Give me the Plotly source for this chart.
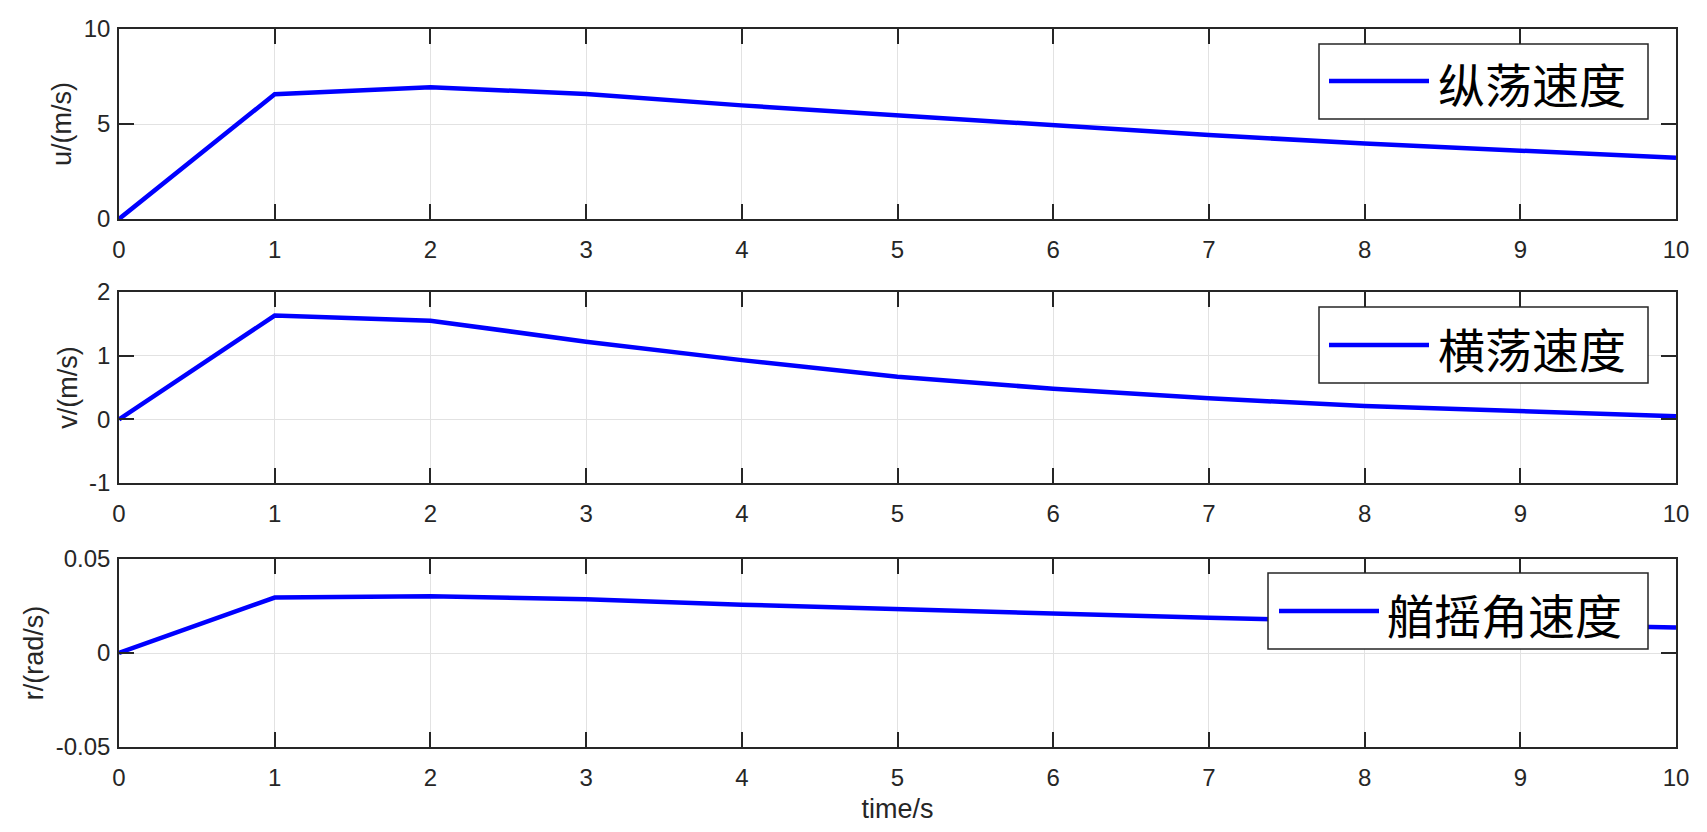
import plotly.graph_objects as go
from plotly.subplots import make_subplots

# time axis (s)
time_s = [0, 1, 2, 3, 4, 5, 6, 7, 8, 9, 10]

# surge / sway / yaw rate
u_surge = [0, 6.57, 6.94, 6.58, 5.98, 5.45, 4.92, 4.42, 3.97, 3.59, 3.22]
v_sway = [0, 1.63, 1.55, 1.22, 0.93, 0.67, 0.48, 0.33, 0.21, 0.13, 0.05]
r_yaw = [0, 0.0295, 0.0302, 0.0286, 0.0257, 0.0233, 0.0210, 0.0187, 0.0168, 0.0150, 0.0135]

series_names = ["纵荡速度", "横荡速度", "艏摇角速度"]
y_titles = ["u/(m/s)", "v/(m/s)", "r/(rad/s)"]

u_ticks = [0, 5, 10]
v_ticks = [-1, 0, 1, 2]
r_ticks = [-0.05, 0, 0.05]
r_ticktext = ["-0.05", "0", "0.05"]
x_ticks = [0, 1, 2, 3, 4, 5, 6, 7, 8, 9, 10]

# the page body has an 8px default margin, so the figure is shifted by that
PAGE_OFF = 8
W, H = 1707 - PAGE_OFF, 832 - PAGE_OFF
L, R, T, B = 119 - PAGE_OFF, 31, 29 - PAGE_OFF, 85
AXIS_COLOR = "#262626"
TICK_FONT = dict(family="Liberation Sans, Arial", size=24, color=AXIS_COLOR)
TITLE_FONT = dict(family="Liberation Sans, Arial", size=27, color=AXIS_COLOR)
CJK_FONT = dict(family="Noto Sans CJK SC", size=47, color="black")


def px_x(p):
    # screen pixel -> paper fraction
    return (p - PAGE_OFF - L) / (W - L - R)


def px_y(p):
    return (H - B - (p - PAGE_OFF)) / (H - T - B)


fig = make_subplots(rows=3, cols=1)

all_y = [u_surge, v_sway, r_yaw]
for i, ys in enumerate(all_y):
    fig.add_trace(
        go.Scatter(x=time_s, y=ys, mode="lines", name=series_names[i],
                   line=dict(color="#0000ff", width=4.5), showlegend=False),
        row=i + 1, col=1
    )

# panel vertical extents in screen pixels (top, bottom)
panels = [(29, 219), (292, 483), (559, 747)]
y_ranges = [[0, 10], [-1, 2], [-0.05, 0.05]]
y_tickvals = [u_ticks, v_ticks, r_ticks]
y_ticktexts = [[str(t) for t in u_ticks], [str(t) for t in v_ticks], r_ticktext]

for i in range(3):
    top, bot = panels[i]
    fig.update_yaxes(
        domain=[px_y(bot), px_y(top)], range=y_ranges[i], automargin=False,
        tickvals=y_tickvals[i], ticktext=y_ticktexts[i],
        ticks="inside", ticklen=15, tickwidth=1.5, tickcolor=AXIS_COLOR,
        showline=True, linecolor=AXIS_COLOR, linewidth=1.5, mirror="allticks",
        showgrid=True, gridcolor="#e2e2e2", gridwidth=1, zeroline=False,
        tickfont=TICK_FONT, ticklabelstandoff=2,
        title=dict(text=y_titles[i], font=TITLE_FONT, standoff=4),
        row=i + 1, col=1
    )
    fig.update_xaxes(
        range=[0, 10], tickvals=x_ticks, automargin=False,
        ticks="inside", ticklen=15, tickwidth=1.5, tickcolor=AXIS_COLOR,
        showline=True, linecolor=AXIS_COLOR, linewidth=1.5, mirror="allticks",
        showgrid=True, gridcolor="#e2e2e2", gridwidth=1, zeroline=False,
        tickfont=TICK_FONT, ticklabelstandoff=8,
        row=i + 1, col=1
    )

fig.update_xaxes(title=dict(text="time/s", font=TITLE_FONT, standoff=10), row=3, col=1)

# hand-drawn legend boxes (MATLAB style: long line sample)
legends = [
    # box x0, x1, y0, y1, line x0, x1, line y, text x
    (1319, 1648, 44, 119, 1329, 1429, 81, 1436),
    (1319, 1648, 307, 383, 1329, 1429, 345, 1436),
    (1268, 1648, 573, 649, 1279, 1379, 611, 1385),
]
shapes = []
annotations = []
for i, (bx0, bx1, by0, by1, lx0, lx1, ly, tx) in enumerate(legends):
    shapes.append(dict(type="rect", xref="paper", yref="paper", layer="above",
                       x0=px_x(bx0), x1=px_x(bx1), y0=px_y(by1), y1=px_y(by0),
                       fillcolor="white", line=dict(color=AXIS_COLOR, width=1.5)))
    shapes.append(dict(type="line", xref="paper", yref="paper", layer="above",
                       x0=px_x(lx0), x1=px_x(lx1), y0=px_y(ly), y1=px_y(ly),
                       line=dict(color="#0000ff", width=4.5)))
    annotations.append(dict(text=series_names[i], xref="paper", yref="paper",
                            x=px_x(tx), y=px_y(ly + 2), xanchor="left", yanchor="middle",
                            showarrow=False, font=CJK_FONT))

fig.update_layout(
    width=W, height=H,
    margin=dict(l=L, r=R, t=T, b=B),
    paper_bgcolor="white", plot_bgcolor="white",
    shapes=shapes, annotations=annotations,
    showlegend=False,
)

fig.write_html("out.html")
